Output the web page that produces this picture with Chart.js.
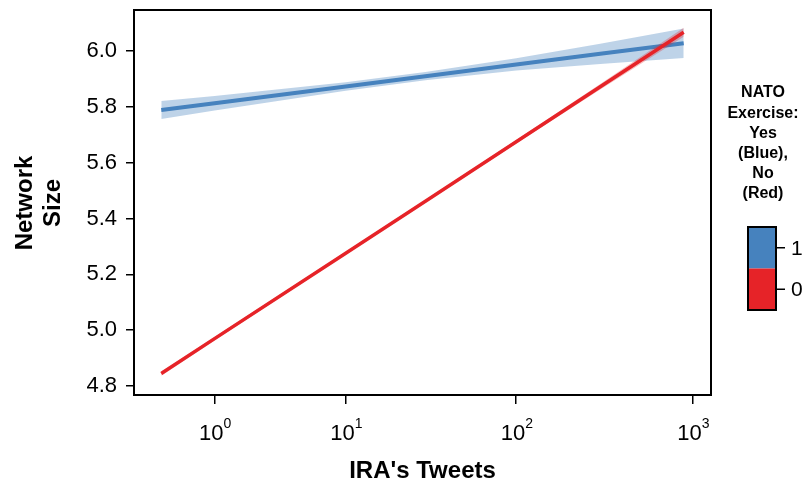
<!DOCTYPE html>
<html>
<head>
<meta charset="utf-8">
<script src="https://cdn.jsdelivr.net/npm/chart.js@4"></script>
<style>
  body { margin: 0; background: #fff; }
  #wrap { position: relative; width: 809px; height: 483px; }
</style>
</head>
<body>
<div id="wrap"><canvas id="effectChart" width="809" height="483"></canvas></div>
<script>
// IRA's tweets (raw counts), x axis is log10(tweets + 1)
const tweets = [0, 1, 10, 30, 100, 300, 890];

// NATO exercise = 1 (blue)
const blueFit   = [5.789, 5.813, 5.873, 5.910, 5.952, 5.990, 6.028];
const blueUpper = [5.821, 5.839, 5.888, 5.925, 5.974, 6.026, 6.081];
const blueLower = [5.757, 5.787, 5.858, 5.895, 5.930, 5.954, 5.975];

// NATO exercise = 0 (red)
const redFit   = [4.845, 4.970, 5.276, 5.462, 5.675, 5.872, 6.067];
const redUpper = [4.853, 4.977, 5.280, 5.466, 5.681, 5.882, 6.083];
const redLower = [4.837, 4.963, 5.272, 5.458, 5.669, 5.862, 6.051];

const xTickVals = [1, 10, 100, 1000];
const xTickExp = ['0', '1', '2', '3'];
const yTickVals = [4.8, 5.0, 5.2, 5.4, 5.6, 5.8, 6.0];

const legendTitle = ['NATO', 'Exercise:', 'Yes', '(Blue),', 'No', '(Red)'];
const legendLabels = ['1', '0'];

const BLUE = 'rgb(70,130,190)';
const BLUE_BAND = 'rgba(70,130,190,0.35)';
const RED = 'rgb(230,35,40)';
const RED_BAND = 'rgba(230,35,40,0.3)';
const FONT = '"Liberation Sans", Arial, sans-serif';

function toPoints(vals) {
    return vals.map((v, i) => ({ x: Math.log10(tweets[i] + 1), y: v }));
}

// box, x labels with superscripts, axis titles, colour bar legend
const decor = {
    id: 'decor',
    afterDraw(chart) {
        const ctx = chart.ctx;
        const a = chart.chartArea;
        const x = chart.scales.x;
        ctx.save();
        ctx.strokeStyle = '#000';
        ctx.lineWidth = 2;
        ctx.strokeRect(a.left, a.top, a.right - a.left, a.bottom - a.top);

        ctx.fillStyle = '#000';
        xTickVals.forEach((v, i) => {
            const px = x.getPixelForValue(Math.log10(v + 1));
            ctx.font = '22px ' + FONT;
            ctx.textAlign = 'right';
            ctx.textBaseline = 'alphabetic';
            ctx.fillText('10', px + 9, 440);
            ctx.font = '14px ' + FONT;
            ctx.textAlign = 'left';
            ctx.fillText(xTickExp[i], px + 9, 428);
        });

        // axis titles
        ctx.font = 'bold 24px ' + FONT;
        ctx.textAlign = 'center';
        ctx.textBaseline = 'middle';
        ctx.fillText("IRA's Tweets", (a.left + a.right) / 2, 471);

        ctx.save();
        ctx.translate(25, 203);
        ctx.rotate(-Math.PI / 2);
        ctx.fillText('Network', 0, 0);
        ctx.restore();
        ctx.save();
        ctx.translate(53, 203);
        ctx.rotate(-Math.PI / 2);
        ctx.fillText('Size', 0, 0);
        ctx.restore();

        // legend
        ctx.font = 'bold 16px ' + FONT;
        legendTitle.forEach((t, i) => {
            ctx.fillText(t, 763, 93 + i * 20.2);
        });
        const bx = 748, bw = 28, top = 227, bh = 83;
        ctx.fillStyle = BLUE;
        ctx.fillRect(bx, top, bw, bh / 2);
        ctx.fillStyle = RED;
        ctx.fillRect(bx, top + bh / 2, bw, bh / 2);
        ctx.strokeStyle = '#000';
        ctx.lineWidth = 2;
        ctx.strokeRect(bx, top, bw, bh);
        ctx.lineWidth = 1.5;
        ctx.fillStyle = '#000';
        ctx.font = '21px ' + FONT;
        ctx.textAlign = 'left';
        legendLabels.forEach((t, i) => {
            const ty = top + bh / 4 + i * bh / 2;
            ctx.beginPath();
            ctx.moveTo(bx + bw, ty);
            ctx.lineTo(bx + bw + 9, ty);
            ctx.stroke();
            ctx.fillText(t, bx + bw + 15, ty + 1);
        });
        ctx.restore();
    }
};

const ctx = document.getElementById('effectChart').getContext('2d');
new Chart(ctx, {
    type: 'line',
    data: {
        datasets: [
            { data: toPoints(redFit), borderColor: RED, borderWidth: 3.5, pointRadius: 0, fill: false },
            { data: toPoints(redUpper), borderWidth: 0, pointRadius: 0, fill: '+1', backgroundColor: RED_BAND },
            { data: toPoints(redLower), borderWidth: 0, pointRadius: 0, fill: false },
            { data: toPoints(blueFit), borderColor: BLUE, borderWidth: 4, pointRadius: 0, fill: false },
            { data: toPoints(blueUpper), borderWidth: 0, pointRadius: 0, fill: '+1', backgroundColor: BLUE_BAND },
            { data: toPoints(blueLower), borderWidth: 0, pointRadius: 0, fill: false }
        ]
    },
    options: {
        responsive: false,
        animation: false,
        devicePixelRatio: 1,
        layout: { padding: { left: 0, top: 10, right: 98, bottom: 0 } },
        plugins: { legend: { display: false }, tooltip: { enabled: false } },
        scales: {
            x: {
                type: 'linear',
                min: -0.154,
                max: 3.104,
                afterBuildTicks: s => { s.ticks = xTickVals.map(v => ({ value: Math.log10(v + 1) })); },
                afterFit: s => { s.height = 88; s.paddingLeft = 0; s.paddingRight = 0; },
                ticks: { callback: () => '', font: { size: 10 } },
                grid: { drawOnChartArea: false, drawTicks: true, tickLength: 9, color: '#000', lineWidth: 1.5 },
                border: { display: false }
            },
            y: {
                min: 4.768,
                max: 6.147,
                afterBuildTicks: s => { s.ticks = yTickVals.map(v => ({ value: v })); },
                afterFit: s => { s.width = 134; s.paddingTop = 0; s.paddingBottom = 0; },
                ticks: {
                    callback: v => v.toFixed(1),
                    color: '#000',
                    padding: 9,
                    font: { size: 22, family: FONT }
                },
                grid: { drawOnChartArea: false, drawTicks: true, tickLength: 8, color: '#000', lineWidth: 1.5 },
                border: { display: false }
            }
        }
    },
    plugins: [decor]
});
</script>
</body>
</html>
